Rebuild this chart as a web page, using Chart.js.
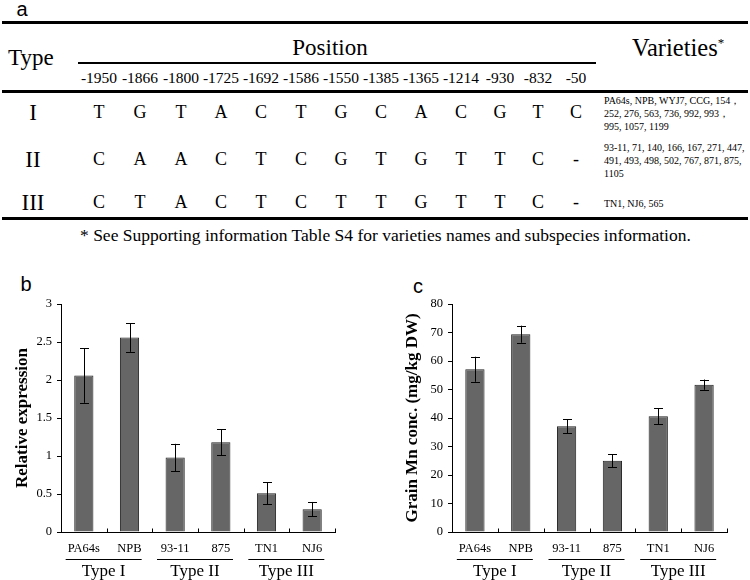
<!DOCTYPE html>
<html lang="en">
<head>
<meta charset="UTF-8">
<title>Promoter haplotypes, expression and grain Mn</title>
<script src="https://cdn.jsdelivr.net/npm/chart.js@4"></script>
<style>
    body {
        margin: 0;
        width: 750px;
        height: 580px;
        position: relative;
        overflow: hidden;
        background: #fff;
        color: #000;
        font-family: 'Liberation Serif', 'Times New Roman', serif;
    }
    .abs { position: absolute; white-space: nowrap; line-height: 1; }
    .mid { transform: translate(-50%, -50%); }
    .vmid { transform: translateY(-50%); }
    .rule { position: absolute; background: #000; }
    .panel { font-family: 'Liberation Sans', Arial, sans-serif; font-size: 20px; }
    .chart-box { position: absolute; top: 270px; width: 375px; height: 310px; }
    .vars { line-height: 13px; }
</style>
</head>
<body>
<div class="abs panel mid" style="left:22px; top:9px;">a</div>
<div class="abs panel mid" style="left:26px; top:284px;">b</div>
<div class="abs panel mid" style="left:418px; top:286px;">c</div>

<div id="table"></div>

<div class="chart-box" style="left:0;"><canvas id="exprChart" width="375" height="310"></canvas></div>
<div class="chart-box" style="left:375px;"><canvas id="mnChart" width="375" height="310"></canvas></div>

<script>
// ---- data ----
const positions = ['-1950', '-1866', '-1800', '-1725', '-1692', '-1586', '-1550',
                   '-1385', '-1365', '-1214', '-930', '-832', '-50'];
const haplotypes = ['I', 'II', 'III'];
const allelesI   = ['T', 'G', 'T', 'A', 'C', 'T', 'G', 'C', 'A', 'C', 'G', 'T', 'C'];
const allelesII  = ['C', 'A', 'A', 'C', 'T', 'C', 'G', 'T', 'G', 'T', 'T', 'C', '-'];
const allelesIII = ['C', 'T', 'A', 'C', 'T', 'C', 'T', 'T', 'G', 'T', 'T', 'C', '-'];
const varietiesI   = ['PA64s, NPB, WYJ7, CCG, 154，', '252, 276, 563, 736, 992, 993，', '995, 1057, 1199'];
const varietiesII  = ['93-11, 71, 140, 166, 167, 271, 447,', '491, 493, 498, 502, 767, 871, 875,', '1105'];
const varietiesIII = ['TN1, NJ6, 565'];
const footnote = '* See Supporting information Table S4 for varieties names and subspecies information.';

const varieties = ['PA64s', 'NPB', '93-11', '875', 'TN1', 'NJ6'];
const typeGroups = ['Type I', 'Type II', 'Type III'];
const relExpr    = [2.06, 2.56, 0.98, 1.18, 0.51, 0.30];
const relExprErr = [0.36, 0.19, 0.18, 0.17, 0.145, 0.095];
const grainMn    = [57.1, 69.4, 37.1, 25.0, 40.6, 51.7];
const grainMnErr = [4.4, 3.0, 2.4, 2.25, 2.85, 1.8];

// ---- table (panel a) ----
const colX = [99, 140, 181, 221, 261, 301, 341, 381, 421, 461, 500, 538, 576];
const rowY = [112, 159, 202];
const table = document.getElementById('table');

function addText(txt, x, y, size, cls) {
    const d = document.createElement('div');
    d.className = 'abs ' + (cls || 'mid');
    d.style.left = x + 'px';
    d.style.top = y + 'px';
    d.style.fontSize = size + 'px';
    d.textContent = txt;
    table.appendChild(d);
    return d;
}
function addRule(x, y, w, h) {
    const d = document.createElement('div');
    d.className = 'rule';
    d.style.cssText = `left:${x}px;top:${y}px;width:${w}px;height:${h}px;`;
    table.appendChild(d);
}

addRule(2, 21, 746, 3);
addRule(2, 90, 746, 3);
addRule(2, 217, 746, 3);
addRule(78, 62, 518, 1.5);

addText('Type', 8, 57, 23, 'vmid');
addText('Position', 330, 47, 23);
const vh = addText('Varieties', 632, 48, 24.5, 'vmid');
vh.innerHTML = 'Varieties<sup style="font-size:13px;vertical-align:9px;">*</sup>';

positions.forEach((p, i) => addText(p, colX[i], 78, 15.5));

const alleleRows = [allelesI, allelesII, allelesIII];
const varietyRows = [varietiesI, varietiesII, varietiesIII];
haplotypes.forEach((h, r) => {
    addText(h, 33, rowY[r], 23);
    alleleRows[r].forEach((a, i) => addText(a, colX[i], rowY[r], 18));
    const v = addText('', 604, rowY[r] + 1, 10, 'vmid vars');
    v.innerHTML = varietyRows[r].join('<br>');
});

addText(footnote, 80, 236, 17.5, 'vmid');

// ---- charts (panels b, c) ----
const SERIF = "'Liberation Serif', 'Times New Roman', serif";

const errorBarsPlugin = {
    id: 'errorBars',
    afterDatasetsDraw(chart, args, opts) {
        const c = chart.ctx;
        const meta = chart.getDatasetMeta(0);
        const y = chart.scales.y;
        const vals = chart.data.datasets[0].data;
        c.save();
        c.strokeStyle = '#000';
        c.lineWidth = 1;
        meta.data.forEach((bar, i) => {
            const top = y.getPixelForValue(vals[i] + opts.errors[i]);
            const bot = y.getPixelForValue(vals[i] - opts.errors[i]);
            const x = Math.round(bar.x) + 0.5;
            c.beginPath();
            c.moveTo(x, top); c.lineTo(x, bot);
            c.moveTo(x - 4.5, Math.round(top) + 0.5); c.lineTo(x + 4.5, Math.round(top) + 0.5);
            c.moveTo(x - 4.5, Math.round(bot) + 0.5); c.lineTo(x + 4.5, Math.round(bot) + 0.5);
            c.stroke();
        });
        c.restore();
    }
};

const groupAxisPlugin = {
    id: 'groupAxis',
    afterDraw(chart, args, opts) {
        const c = chart.ctx;
        const x = chart.scales.x;
        const base = Math.round(chart.chartArea.bottom) + 0.5;
        const step = x.getPixelForValue(1) - x.getPixelForValue(0);
        c.save();
        c.strokeStyle = '#000';
        c.lineWidth = 1;
        // small tick marks between categories
        c.beginPath();
        for (let i = 0; i < varieties.length; i++) {
            const tx = Math.round(x.getPixelForValue(i) + step / 2) + 0.5;
            c.moveTo(tx, base); c.lineTo(tx, base - 4);
        }
        c.stroke();
        // group underline and label
        c.fillStyle = '#000';
        c.font = '17px ' + SERIF;
        c.textAlign = 'center';
        c.textBaseline = 'middle';
        typeGroups.forEach((g, k) => {
            const cx = (x.getPixelForValue(2 * k) + x.getPixelForValue(2 * k + 1)) / 2 - 3;
            c.beginPath();
            c.moveTo(cx - 38, base + 27); c.lineTo(cx + 38, base + 27);
            c.stroke();
            c.fillText(g, cx, base + 39);
        });
        c.restore();
    }
};

function makeChart(id, values, errors, yMax, yStep, yTitle, axisWidth, titlePad, padRight) {
    return new Chart(document.getElementById(id), {
        type: 'bar',
        data: {
            labels: varieties,
            datasets: [{
                data: values,
                backgroundColor: '#666666',
                borderColor: '#222222',
                borderWidth: 1,
                barPercentage: 0.42,
                categoryPercentage: 1
            }]
        },
        options: {
            responsive: false,
            animation: false,
            events: [],
            layout: { padding: { top: 34, right: padRight, bottom: 0, left: 0 } },
            plugins: {
                legend: { display: false },
                tooltip: { enabled: false },
                errorBars: { errors: errors }
            },
            scales: {
                x: {
                    grid: { display: false, drawTicks: false, tickLength: 0 },
                    border: { color: '#000', width: 1 },
                    ticks: { color: '#000', padding: 9, maxRotation: 0, autoSkip: false,
                             font: { family: SERIF, size: 12.5 } },
                    afterFit: s => { s.height = 48; }
                },
                y: {
                    min: 0,
                    max: yMax,
                    grid: { drawOnChartArea: false, tickLength: 4, color: '#000' },
                    border: { color: '#000', width: 1 },
                    ticks: { stepSize: yStep, color: '#000', padding: 5,
                             font: { family: SERIF, size: 12.5 },
                             callback: v => String(v) },
                    title: { display: true, text: yTitle, color: '#000',
                             font: { family: SERIF, size: 17, weight: 'bold' },
                             padding: { top: titlePad, bottom: 0 } },
                    afterFit: s => { s.width = axisWidth; }
                }
            }
        },
        plugins: [errorBarsPlugin, groupAxisPlugin]
    });
}

makeChart('exprChart', relExpr, relExprErr, 3, 0.5, 'Relative expression', 61, 12, 40);
makeChart('mnChart', grainMn, grainMnErr, 80, 10, 'Grain Mn conc. (mg/kg DW)', 77, 27, 23);
</script>
</body>
</html>
